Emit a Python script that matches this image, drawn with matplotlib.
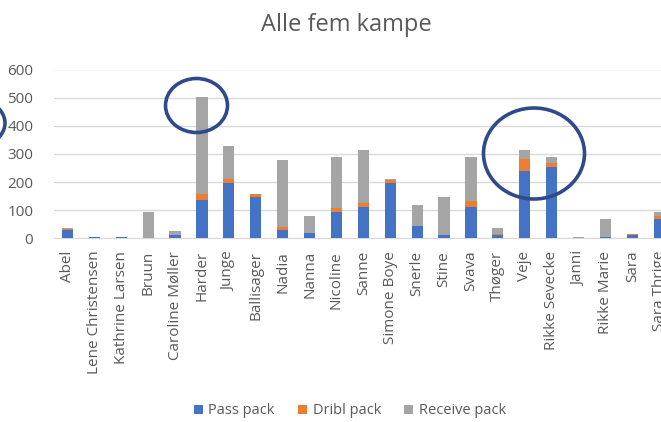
import numpy as np
import matplotlib.pyplot as plt
from matplotlib.patches import Ellipse

plt.rcParams['font.family'] = ['Open Sans', 'DejaVu Sans']

# data
players = ["Abel", "Lene Christensen", "Kathrine Larsen", "Bruun", "Caroline Møller",
           "Harder", "Junge", "Ballisager", "Nadia", "Nanna", "Nicoline", "Sanne",
           "Simone Boye", "Snerle", "Stine", "Svava", "Thøger", "Veje",
           "Rikke Sevecke", "Janni", "Rikke Marie", "Sara", "Sara Thrige"]
pass_pack = [30, 5, 5, 0, 10, 137, 196, 148, 30, 20, 93, 113,
             196, 45, 12, 113, 10, 238, 254, 0, 6, 11, 68]
dribl_pack = [4, 0, 0, 0, 0, 20, 16, 9, 9, 0, 15, 14,
              12, 0, 0, 19, 5, 44, 14, 0, 0, 5, 13]
receive_pack = [1, 1, 0, 93, 15, 347, 115, 1, 241, 60, 180, 186,
                3, 72, 136, 156, 20, 31, 20, 6, 62, 1, 12]

blue = "#4472C4"
orange = "#ED7D31"
grey = "#A5A5A5"
text_col = "#595959"
ring_col = "#2F4A8A"

W, H = 661, 422
fig = plt.figure(figsize=(W / 100, H / 100), dpi=100)

# axes placed in pixels; the chart runs off the right edge like the screenshot
x0, x_step = 54, 26.9
y0, y600 = 238.3, 69.5
n = len(players)
ax = fig.add_axes([x0 / W, (H - y0) / H, (n + 1) * x_step / W, (y0 - y600) / H])

x = np.arange(n)
p = np.array(pass_pack)
d = np.array(dribl_pack)
r = np.array(receive_pack)
bw = 0.42
ax.bar(x, p, bw, color=blue, label="Pass pack", zorder=3)
ax.bar(x, d, bw, bottom=p, color=orange, label="Dribl pack", zorder=3)
ax.bar(x, r, bw, bottom=p + d, color=grey, label="Receive pack", zorder=3)

ax.set_xlim(-0.5, n + 0.5)
ax.set_ylim(0, 600)
ax.set_yticks(range(0, 601, 100))
ax.set_xticks(x)
ax.set_xticklabels(players, rotation=90, fontsize=11, color=text_col)
ax.tick_params(axis="y", labelsize=11, labelcolor=text_col, length=0, pad=15)
ax.tick_params(axis="x", length=0, pad=9)
ax.grid(axis="y", color="#D9D9D9", linewidth=1, zorder=0)
for s in ["top", "right", "left"]:
  ax.spines[s].set_visible(False)
ax.spines["bottom"].set_color("#D9D9D9")

fig.text(346 / W, 1 - 25 / H, "Alle fem kampe", ha="center", va="center",
         fontsize=17, color=text_col)

leg = fig.legend(loc="center", bbox_to_anchor=(350 / W, 1 - 411 / H), ncol=3,
                 frameon=False, fontsize=10.5, handlelength=0.6, handleheight=0.6,
                 columnspacing=1.6, handletextpad=0.4)
for t in leg.get_texts():
  t.set_color(text_col)

# hand-drawn rings, placed in pixel coordinates
def ring(cx, cy, w, h):
  e = Ellipse((cx / 100, (H - cy) / 100), w / 100, h / 100, fill=False,
              edgecolor=ring_col, linewidth=2.6, transform=fig.dpi_scale_trans)
  fig.add_artist(e)

ring(196.5, 105.5, 62, 54)
ring(534, 153.5, 101, 91)
ring(-45, 123, 100, 60)

fig.savefig("out.png", dpi=100)
